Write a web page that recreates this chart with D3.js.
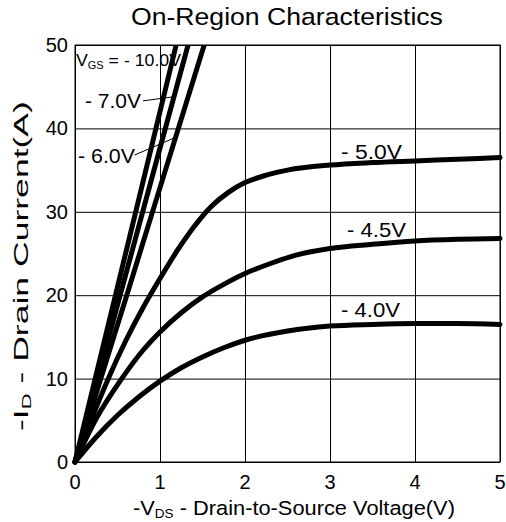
<!DOCTYPE html>
<html><head><meta charset="utf-8">
<script src="https://cdn.jsdelivr.net/npm/d3@7"></script>
<style>
html,body{margin:0;padding:0;background:#fff;}
text{font-family:"Liberation Sans",Arial,sans-serif;fill:#000;}
</style></head>
<body><svg id="c" width="506" height="522"></svg>
<script>
// ---- data ----
const xTicks = [0, 1, 2, 3, 4, 5];
const yTicks = [0, 10, 20, 30, 40, 50];
const seriesNames = ["- 10.0V", "- 7.0V", "- 6.0V", "- 5.0V", "- 4.5V", "- 4.0V"];
const vgs10 = [[0,0],[0.3,12.6],[0.6,25.2],[0.9,37.8],[1.19,50]];
const vgs7  = [[0,0],[0.3,11.3],[0.6,22.6],[0.9,33.9],[1.33,50]];
const vgs6  = [[0,0],[0.3,9.9],[0.6,19.7],[0.9,29.6],[1.52,50]];
const vgs5  = [[0,0],[0.2,5.3],[0.4,10.2],[0.6,14.6],[0.8,18.5],[1,22.0],[1.2,25.3],[1.4,28.2],[1.6,30.6],[1.8,32.3],[2,33.5],[2.25,34.4],[2.5,35.0],[3,35.6],[3.5,35.9],[4,36.1],[4.5,36.3],[5,36.5]];
const vgs45 = [[0,0],[0.25,5.2],[0.55,10],[0.8,13.4],[1,15.6],[1.25,17.9],[1.5,19.8],[1.75,21.3],[2,22.6],[2.3,23.8],[2.6,24.8],[3,25.6],[3.5,26.1],[4,26.5],[4.5,26.7],[5,26.8]];
const vgs4  = [[0,0],[0.25,3.0],[0.5,5.6],[0.75,7.8],[1,9.7],[1.25,11.3],[1.5,12.6],[1.75,13.7],[2,14.6],[2.5,15.7],[3,16.3],[3.5,16.5],[4,16.6],[4.5,16.6],[5,16.5]];
const seriesValues = [vgs10, vgs7, vgs6, vgs5, vgs45, vgs4];
const leader7 = [[0.8,43.3],[1.165,43.8]];
const leader6 = [[0.70,36.8],[1.2,39.0]];

// ---- chart ----
const svg = d3.select("#c");
const x = d3.scaleLinear().domain([0,5]).range([75,500]);
const y = d3.scaleLinear().domain([0,50]).range([462,45]);

// grid
svg.append("g").attr("transform","translate(0,462)")
  .call(d3.axisBottom(x).tickValues(xTicks).tickSize(-417).tickFormat(""))
  .call(g=>{g.select(".domain").remove();g.selectAll("line").attr("stroke","#000").attr("stroke-width",1);});
svg.append("g").attr("transform","translate(75,0)")
  .call(d3.axisLeft(y).tickValues(yTicks).tickSize(-425).tickFormat(""))
  .call(g=>{g.select(".domain").remove();g.selectAll("line").attr("stroke","#000").attr("stroke-width",1);});
svg.append("rect").attr("x",x(0)).attr("y",y(50)).attr("width",x(5)-x(0)).attr("height",y(0)-y(50))
  .attr("fill","none").attr("stroke","#000").attr("stroke-width",1);

// tick labels
svg.append("g").selectAll("text").data(xTicks).join("text")
  .attr("x",d=>x(d)).attr("y",489).attr("text-anchor","middle").attr("font-size",20).text(d=>d);
svg.append("g").selectAll("text").data(yTicks).join("text")
  .attr("x",68).attr("y",d=>y(d)+7).attr("text-anchor","end").attr("font-size",20).text(d=>d);

// curves
svg.append("clipPath").attr("id","pc").append("rect")
  .attr("x",x(0)-4).attr("y",y(50)).attr("width",x(5)-x(0)+8).attr("height",y(0)-y(50)+4);
const line = d3.line().x(d=>x(d[0])).y(d=>y(d[1])).curve(d3.curveMonotoneX);
svg.append("g").attr("clip-path","url(#pc)").selectAll("path").data(seriesValues).join("path")
  .attr("d",line).attr("fill","none").attr("stroke","#000").attr("stroke-width",5)
  .attr("stroke-linecap","round").attr("stroke-linejoin","round");

// leaders
const l2 = d3.line().x(d=>x(d[0])).y(d=>y(d[1]));
[leader7, leader6].forEach(L=>svg.append("path").attr("d",l2(L)).attr("stroke","#000").attr("stroke-width",1).attr("fill","none"));

// text helper: stretched label
function label(parts, px, py, width, size){
  const g = svg.append("g");
  const t = g.append("text").attr("font-size",size).attr("x",0).attr("y",0);
  parts.forEach(p=>{
    const ts = t.append("tspan").text(p.t);
    if(p.sub){ ts.attr("font-size",size*0.62).attr("dy",3); }
    else if(p.after){ ts.attr("dy",-3); }
  });
  const w = t.node().getComputedTextLength();
  const s = width ? width/w : 1;
  g.attr("transform",`translate(${px},${py}) scale(${s},1)`);
  return g;
}
label([{t:"On-Region Characteristics"}], 131, 25, 312, 24);
label([{t:"-V"},{t:"DS",sub:true},{t:" - Drain-to-Source Voltage(V)",after:true}], 133, 515, 322, 19.5);
// y label rotated
(function(){
  const g = svg.append("g").attr("transform","translate(28,266) rotate(-90)");
  const t = g.append("text").attr("font-size",21);
  t.append("tspan").text("-I");
  t.append("tspan").text("D").attr("font-size",13).attr("dy",3);
  t.append("tspan").text(" - Drain Current(A)").attr("dy",-3);
  const w = t.node().getComputedTextLength();
  const s = 330/w;
  t.attr("transform",`scale(${s},1)`).attr("x",-w/2);
})();

label([{t:"V"},{t:"GS",sub:true},{t:" = "+seriesNames[0],after:true}], 76, 66, 105, 17);
label([{t:seriesNames[1]}], 85, 108, 56, 20);
label([{t:seriesNames[2]}], 78, 163, 57, 20);
label([{t:seriesNames[3]}], 341, 159, 61, 20);
label([{t:seriesNames[4]}], 347, 237, 59, 20);
label([{t:seriesNames[5]}], 341, 317, 59, 20);
</script></body></html>
